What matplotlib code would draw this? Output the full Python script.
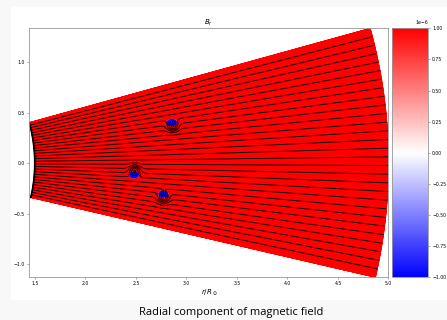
import numpy as np
import matplotlib
matplotlib.use("Agg")
import matplotlib.pyplot as plt
from matplotlib.patches import Rectangle

# wedge extent (r in solar radii, latitude in degrees)
r_range = [1.5, 5.0]
lat_range = [-13.06, 15.47]
n_lines = 30  # contour levels incl. the two edges

# small flux bumps (centre x, centre y, amplitude in deg, width)
spot_x = [2.865, 2.49, 2.775]
spot_y = [0.365, -0.075, -0.345]
spot_amp = [3.5, -3.5, 3.5]
spot_width = [0.05, 0.05, 0.05]

cbar_ticks = [-1.0, -0.75, -0.5, -0.25, 0.0, 0.25, 0.5, 0.75, 1.0]

##### grid #####
r = np.linspace(r_range[0], r_range[1], 800)
th = np.linspace(lat_range[0], lat_range[1], 600)
TH, R = np.meshgrid(th, r)
X = R * np.cos(np.radians(TH))
Y = R * np.sin(np.radians(TH))

# flux function: radial lines + local bumps
psi = TH.copy()
for sx, sy, a, w in zip(spot_x, spot_y, spot_amp, spot_width):
    psi += a * np.exp(-((X - sx) ** 2 + (Y - sy) ** 2) / w ** 2)

dpsi = np.gradient(psi, th, axis=1)
Br = 1e-4 * dpsi / R ** 2

##### figure #####
fig = plt.figure(figsize=(4.47, 3.2), dpi=100)
fig.patch.set_facecolor('#f8f8f8')
fig.patches.append(Rectangle((11 / 447, 20 / 320), 1, 293 / 320,
                             transform=fig.transFigure, facecolor='white',
                             edgecolor='none', zorder=-5))

ax = fig.add_axes([0.0638, 0.1334, 0.807, 0.778])
cax = fig.add_axes([0.877, 0.1334, 0.0805, 0.778])

pcm = ax.pcolormesh(X, Y, Br, cmap='bwr', vmin=-1e-6, vmax=1e-6,
                    shading='gouraud', rasterized=True)
levels = np.linspace(lat_range[0], lat_range[1], n_lines)
ax.contour(X, Y, psi, levels=levels[1:-1], colors='k', linewidths=0.65,
           linestyles='solid')

arc = np.radians(th)
ax.plot(r_range[0] * np.cos(arc), r_range[0] * np.sin(arc), color='k', lw=1.2)

ax.set_aspect('equal')
ax.set_xlim(X.min(), X.max())
ax.set_ylim(Y.min(), Y.max())
ax.set_xticks([1.5, 2.0, 2.5, 3.0, 3.5, 4.0, 4.5, 5.0])
ax.set_yticks([-1.0, -0.5, 0.0, 0.5, 1.0])
ax.tick_params(labelsize=3.3, length=1.5, width=0.4, pad=1.5, color='#666666')
for s in ax.spines.values():
    s.set_color('#999999')
    s.set_linewidth(0.6)
ax.set_title('$B_r$', fontsize=5, pad=2)
ax.set_xlabel(r'$r/R_\odot$', fontsize=5, labelpad=1)

cb = fig.colorbar(pcm, cax=cax)
cb.set_ticks([t * 1e-6 for t in cbar_ticks])
cb.ax.tick_params(labelsize=3.3, length=1.5, width=0.4, pad=1.5, color='#666666')
cb.ax.yaxis.get_offset_text().set_fontsize(3.3)
cb.outline.set_edgecolor('#999999')
cb.outline.set_linewidth(0.6)

fig.text(0.517, 0.022, 'Radial component of magnetic field', ha='center',
         va='center', fontsize=8, family=['Open Sans', 'DejaVu Sans'])

fig.savefig('out.png', dpi=100, facecolor=fig.get_facecolor())
